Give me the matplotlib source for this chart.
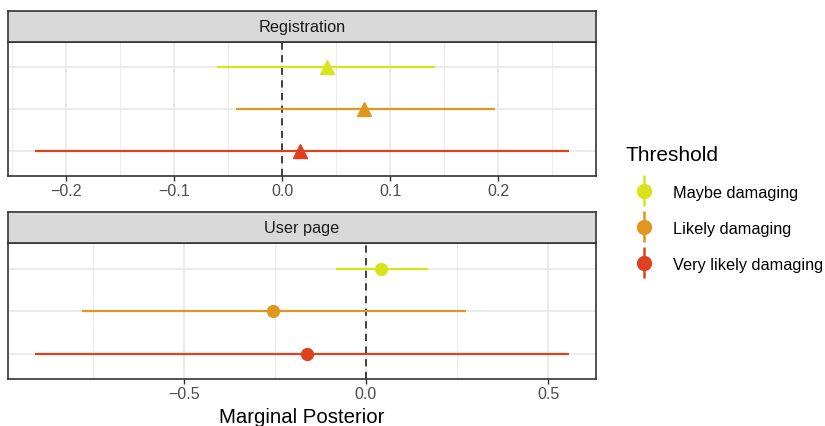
import matplotlib
matplotlib.use("Agg")
import matplotlib.pyplot as plt
from matplotlib.lines import Line2D
from matplotlib.collections import LineCollection
from matplotlib.container import ErrorbarContainer
from matplotlib.legend_handler import HandlerErrorbar
from matplotlib.ticker import MultipleLocator, FixedLocator

plt.rcParams['font.family'] = ['Liberation Sans', 'DejaVu Sans']

# thresholds, top row first
thresholds = ['Maybe damaging', 'Likely damaging', 'Very likely damaging']
colors = ['#d9e31a', '#e1961f', '#df411f']

# Registration: posterior mean and interval
reg_mean = [0.042, 0.076, 0.017]
reg_lo = [-0.060, -0.043, -0.229]
reg_hi = [0.142, 0.197, 0.266]
reg_ticks = [-0.2, -0.1, 0.0, 0.1, 0.2]

# User page
up_mean = [0.041, -0.255, -0.162]
up_lo = [-0.082, -0.780, -0.909]
up_hi = [0.170, 0.275, 0.558]
up_ticks = [-0.5, 0.0, 0.5]

W, H = 825, 427
fig = plt.figure(figsize=(W / 100, H / 100), dpi=100)


def box(x0, y0, x1, y1):
    return [x0 / W, 1 - y1 / H, (x1 - x0) / W, (y1 - y0) / H]


def panel(rect, strip_rect, title, mean, lo, hi, ticks, minor, marker, ms):
    ax = fig.add_axes(rect)
    pos = [3, 2, 1]
    for y, m, l, h, c in zip(pos, mean, lo, hi, colors):
        ax.plot([l, h], [y, y], color=c, lw=1.6, solid_capstyle='butt', zorder=3)
        ax.plot([m], [y], marker=marker, color=c, ms=ms, mec=c, zorder=4)
    ax.axvline(0, color='#333333', lw=1.3, ls=(0, (4, 3)), zorder=2)
    span = max(hi) - min(lo)
    ax.set_xlim(min(lo) - 0.05 * span, max(hi) + 0.05 * span)
    ax.set_ylim(0.4, 3.6)
    ax.xaxis.set_major_locator(FixedLocator(ticks))
    ax.xaxis.set_minor_locator(MultipleLocator(minor))
    ax.set_xticklabels([f'{t:.1f}'.replace('-', '\u2212') for t in ticks])
    ax.set_yticks(pos)
    ax.set_yticklabels([])
    ax.tick_params(axis='y', length=0)
    ax.tick_params(axis='x', which='major', length=3.5, width=1, color='#333333',
                   labelsize=11.5, labelcolor='#4d4d4d', pad=1.5)
    ax.tick_params(axis='x', which='minor', length=0)
    ax.grid(True, which='major', color='#e8e8e8', lw=1.2, zorder=0)
    ax.grid(True, which='minor', axis='x', color='#ebebeb', lw=0.7, zorder=0)
    ax.set_axisbelow(True)
    for s in ax.spines.values():
        s.set_color('#333333')
        s.set_linewidth(1.2)
    st = fig.add_axes(strip_rect)
    st.set_facecolor('#d9d9d9')
    st.set_xticks([])
    st.set_yticks([])
    for s in st.spines.values():
        s.set_color('#333333')
        s.set_linewidth(1.2)
    st.text(0.5, 0.5, title, ha='center', va='center', fontsize=11.7,
            color='#1a1a1a', transform=st.transAxes)
    return ax


ax1 = panel(box(8, 43, 596, 177), box(8, 12, 596, 43), 'Registration',
            reg_mean, reg_lo, reg_hi, reg_ticks, 0.05, '^', 10)
ax2 = panel(box(8, 244, 596, 380), box(8, 213, 596, 244), 'User page',
            up_mean, up_lo, up_hi, up_ticks, 0.25, 'o', 8.5)
ax2.set_xlabel('Marginal Posterior', fontsize=14.7, color='black', labelpad=4.5)

# legend keys: point with a vertical bar through it
handles = []
for c in colors:
    pt = Line2D([], [], marker='o', color=c, ls='none', ms=10)
    bar = LineCollection([], colors=c, linewidths=1.8)
    handles.append(ErrorbarContainer((pt, (), [bar]), has_xerr=False, has_yerr=True))

leg = fig.legend(handles, thresholds, title='Threshold', loc='upper left',
                 bbox_to_anchor=(611 / W, 1 - 131 / H), frameon=False,
                 fontsize=11.7, title_fontsize=15, labelspacing=1.29,
                 handlelength=2.2, handletextpad=0.72,
                 handler_map={ErrorbarContainer: HandlerErrorbar(yerr_size=0.95)})
leg._legend_box.align = 'left'

fig.savefig('out.png', dpi=100)
